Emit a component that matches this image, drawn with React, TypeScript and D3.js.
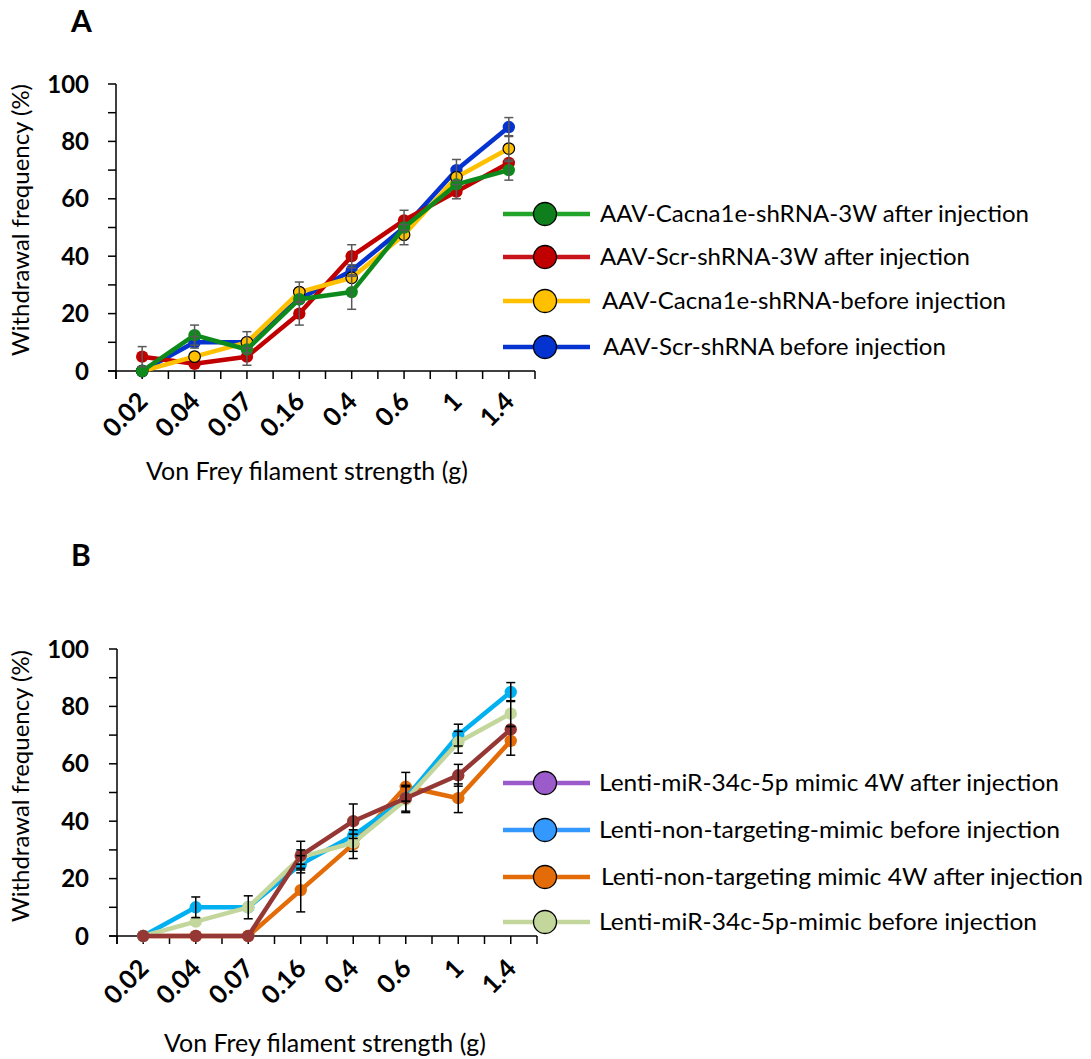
import React from 'react'
import * as d3 from 'd3'

// filament strengths (g)
const strengths = ['0.02', '0.04', '0.07', '0.16', '0.4', '0.6', '1', '1.4']
const yTicks = [0, 20, 40, 60, 80, 100]

// panel A: AAV
const aavCacnaAfter = [0, 12.5, 7.5, 25, 27.5, 50, 65, 70]
const aavCacnaAfterErr = [0, 3.5, 0, 0, 6, 0, 0, 3.5]
const aavScrAfter = [5, 2.5, 5, 20, 40, 52.5, 62.5, 72.5]
const aavScrAfterErr = [3.5, 0, 3, 4, 4, 3.5, 2.5, 0]
const aavCacnaBefore = [0, 5, 10, 27.5, 32.5, 47.5, 67.5, 77.5]
const aavCacnaBeforeErr = [0, 0, 0, 3.5, 0, 3.5, 0, 4.5]
const aavScrBefore = [0, 10, 10, 25, 35, 50, 70, 85]
const aavScrBeforeErr = [0, 2, 3.7, 0, 2, 0, 3.7, 3.3]

// panel B: Lenti
const mimicAfter = [0, 0, 0, 28, 40, 48, 56, 72]
const mimicAfterErr = [0, 0, 0, 5, 6, 4.5, 3.8, 0]
const ntBefore = [0, 10, 10, 25, 35, 48, 70, 85]
const ntBeforeErr = [0, 3.6, 4, 3, 0, 0, 3.8, 3.3]
const ntAfter = [0, 0, 0, 16, 32, 52, 48, 68]
const ntAfterErr = [0, 0, 0, 7.6, 5, 5, 5, 5]
const mimicBefore = [0, 5, 10, 27.5, 32.5, 47.5, 67.5, 77.5]
const mimicBeforeErr = [0, 0, 0, 2.5, 3, 4.5, 3.8, 4.5]

const legendA = [
  'AAV-Cacna1e-shRNA-3W after injection',
  'AAV-Scr-shRNA-3W after injection',
  'AAV-Cacna1e-shRNA-before injection',
  'AAV-Scr-shRNA before injection',
]
const legendB = [
  'Lenti-miR-34c-5p mimic 4W after injection',
  'Lenti-non-targeting-mimic before injection',
  'Lenti-non-targeting mimic 4W after injection',
  'Lenti-miR-34c-5p-mimic before injection',
]

const FONT = 'Lato, "Open Sans", sans-serif'

function Panel({ letter, top, x0, x1, y0, y100, series, legend, errColor, titleX, titleY, yTitleC, labelDrop }) {
  const x = d3.scaleBand().domain(strengths).range([x0, x1]).paddingInner(0).paddingOuter(0)
  const y = d3.scaleLinear().domain([0, 100]).range([y0, y100])
  const cx = (d) => x(d) + x.bandwidth() / 2
  const line = d3.line().x((d, i) => cx(strengths[i])).y((d) => y(d))
  const minor = d3.range(0, 101, 10)
  const halfTicks = d3.range(0, strengths.length * 2 + 1).map((i) => x0 + (i * x.bandwidth()) / 2)

  return (
    <g>
      <text x={71} y={top} fontFamily={FONT} fontWeight="bold" fontSize={30}>{letter}</text>
      {/* axes */}
      <line x1={x0} x2={x0} y1={y100} y2={y0 + 8} stroke="#000" strokeWidth={1.5} />
      <line x1={x0 - 8} x2={x1} y1={y0} y2={y0} stroke="#000" strokeWidth={1.5} />
      {minor.map((v) => (
        <line key={v} x1={x0 - 8} x2={x0} y1={y(v)} y2={y(v)} stroke="#000" strokeWidth={1.5} />
      ))}
      {halfTicks.map((t, i) => (
        <line key={i} x1={t} x2={t} y1={y0} y2={y0 + 8} stroke="#000" strokeWidth={1.5} />
      ))}
      {yTicks.map((v) => (
        <text key={v} x={89} y={y(v) + 8.5} textAnchor="end" fontFamily={FONT} fontWeight="bold" fontSize={24}>{v}</text>
      ))}
      {strengths.map((s) => (
        <text key={s} transform={`translate(${cx(s) + 7},${y0 + labelDrop}) rotate(-45)`} textAnchor="end"
          fontFamily={FONT} fontWeight="bold" fontSize={25.5}>{s}</text>
      ))}
      <text transform={`translate(29,${yTitleC}) rotate(-90)`} textAnchor="middle" fontFamily={FONT} fontSize={24}
        textLength={272} lengthAdjust="spacingAndGlyphs">
        Withdrawal frequency (%)
      </text>
      <text x={titleX} y={titleY} textAnchor="middle" fontFamily={FONT} fontSize={24.5}
        textLength={322} lengthAdjust="spacingAndGlyphs">
        Von Frey filament strength (g)
      </text>
      {/* series */}
      {series.map((s, k) => (
        <g key={k}>
          <path d={line(s.values)} fill="none" stroke={s.color} strokeWidth={4.5} strokeLinejoin="round" />
          {s.values.map((v, i) => (
            <circle key={i} cx={cx(strengths[i])} cy={y(v)} r={s.outline ? 5.8 : 6.2}
              fill={s.color} stroke={s.outline ? '#000' : 'none'} strokeWidth={1.2} />
          ))}
        </g>
      ))}
      {series.map((s, k) => (
        <g key={'e' + k}>
          {s.values.map((v, i) => {
            const e = s.err[i]
            if (!e) return null
            const px = cx(strengths[i])
            return (
              <g key={i} stroke={errColor} strokeWidth={1.5}>
                <line x1={px} x2={px} y1={y(v - e)} y2={y(v + e)} />
                <line x1={px - 4.5} x2={px + 4.5} y1={y(v - e)} y2={y(v - e)} />
                <line x1={px - 4.5} x2={px + 4.5} y1={y(v + e)} y2={y(v + e)} />
              </g>
            )
          })}
        </g>
      ))}
      {/* legend */}
      {legend.map((l, i) => (
        <g key={i} transform={`translate(0,${l.y})`}>
          <line x1={503} x2={590} y1={0} y2={0} stroke={l.line} strokeWidth={4.5} />
          <circle cx={545} cy={0} r={11.5} fill={l.fill} stroke="#000" strokeWidth={1.3} />
          <text x={l.tx} y={8} fontFamily={FONT} fontSize={24} textLength={l.w} lengthAdjust="spacingAndGlyphs">{l.label}</text>
        </g>
      ))}
    </g>
  )
}

export default function App() {
  const seriesA = [
    { values: aavScrBefore, err: aavScrBeforeErr, color: '#0433CF' },
    { values: aavScrAfter, err: aavScrAfterErr, color: '#C00000' },
    { values: aavCacnaBefore, err: aavCacnaBeforeErr, color: '#FFC000', outline: true },
    { values: aavCacnaAfter, err: aavCacnaAfterErr, color: '#0E8A1C' },
  ]
  const legA = [
    { label: legendA[0], line: '#22A32A', fill: '#0E7F1C', y: 214, tx: 600, w: 429 },
    { label: legendA[1], line: '#C8151B', fill: '#C00000', y: 257, tx: 600, w: 370 },
    { label: legendA[2], line: '#FFC000', fill: '#FFC000', y: 301, tx: 602, w: 404 },
    { label: legendA[3], line: '#0433CF', fill: '#0433CF', y: 347, tx: 603, w: 343 },
  ]
  const seriesB = [
    { values: ntAfter, err: ntAfterErr, color: '#E36C09' },
    { values: ntBefore, err: ntBeforeErr, color: '#00B0F0' },
    { values: mimicBefore, err: mimicBeforeErr, color: '#C3D69B' },
    { values: mimicAfter, err: mimicAfterErr, color: '#953735' },
  ]
  const legB = [
    { label: legendB[0], line: '#9B5BCB', fill: '#9B5BCB', y: 783, tx: 599, w: 460 },
    { label: legendB[1], line: '#3399FF', fill: '#3399FF', y: 830, tx: 599, w: 461 },
    { label: legendB[2], line: '#E36C09', fill: '#E36C09', y: 877, tx: 601, w: 482 },
    { label: legendB[3], line: '#C3D69B', fill: '#C3D69B', y: 922, tx: 599, w: 438 },
  ]
  return (
    <svg width={1091} height={1059} style={{ position: 'absolute', left: 0, top: 0, background: '#fff' }}>
      <rect width={1091} height={1059} fill="#fff" />
      <Panel letter="A" top={32} x0={116} x1={535} y0={371} y100={84} series={seriesA} legend={legA}
        errColor="#595959" titleX={307} titleY={480} yTitleC={220} labelDrop={32} />
      <Panel letter="B" top={566} x0={117} x1={537} y0={936} y100={649} series={seriesB} legend={legB}
        errColor="#000" titleX={325} titleY={1052} yTitleC={786} labelDrop={34} />
    </svg>
  )
}
